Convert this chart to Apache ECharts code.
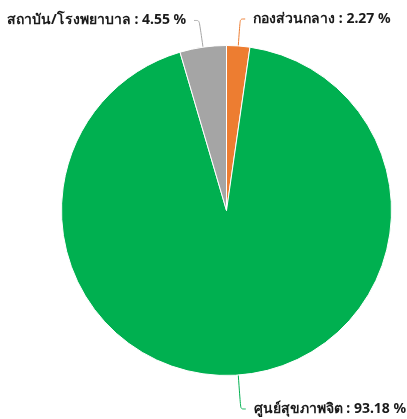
<!DOCTYPE html>
<html>
<head>
<meta charset="utf-8">
<script src="https://cdn.jsdelivr.net/npm/echarts@6/dist/echarts.min.js"></script>
<style>
  html, body { margin: 0; padding: 0; background: #fff; }
  #chart { width: 407px; height: 419px; }
</style>
</head>
<body>
<div id="chart"></div>
<script>
// Units by type (counts); percentages are computed by the pie
const categories = ['กองส่วนกลาง', 'ศูนย์สุขภาพจิต', 'สถาบัน/โรงพยาบาล'];
const counts = [1, 41, 2];
const colors = ['#ED7D31', '#00B050', '#A5A5A5'];
const lineLengths = [27, 34, 27];

const chart = echarts.init(document.getElementById('chart'));
chart.setOption({
  animation: false,
  series: [{
    type: 'pie',
    center: [226.5, 210.5],
    radius: 165,
    startAngle: 90,
    clockwise: true,
    avoidLabelOverlap: false,
    data: categories.map((name, i) => ({
      name: name,
      value: counts[i],
      itemStyle: { color: colors[i] },
      labelLine: { length: lineLengths[i] }
    })),
    itemStyle: { borderColor: '#fff', borderWidth: 1 },
    label: {
      formatter: '{b} : {d} %',
      color: '#1a1a1a',
      fontSize: 14,
      fontWeight: 'bold',
      overflow: 'none',
      distanceToLabelLine: 8,
      fontFamily: 'Noto Sans, sans-serif'
    },
    labelLine: {
      length2: 5,
      smooth: true,
      lineStyle: { width: 1 }
    }
  }]
});
</script>
</body>
</html>
